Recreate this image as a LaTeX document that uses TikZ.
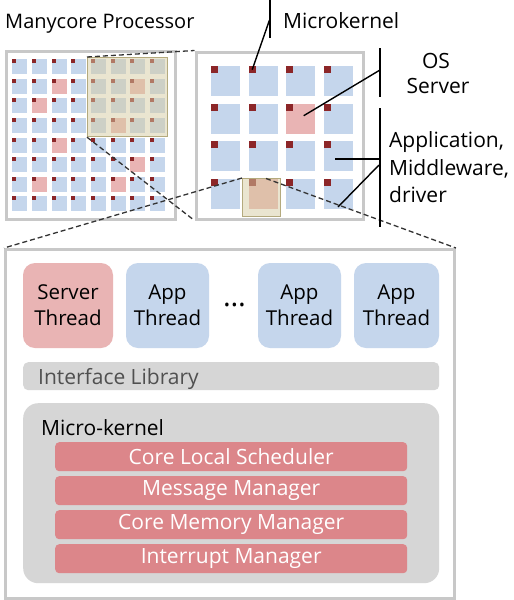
\documentclass[tikz,border=0pt]{standalone}
\usepackage{fontspec}
\setmainfont{Open Sans}
\usetikzlibrary{calc}
\definecolor{cellblue}{RGB}{197,214,236}
\definecolor{cellpink}{RGB}{233,180,180}
\definecolor{markred}{RGB}{140,38,40}
\definecolor{panelgray}{RGB}{200,200,200}
\definecolor{bargray}{RGB}{214,214,214}
\definecolor{barred}{RGB}{220,134,138}
\definecolor{tanfill}{RGB}{214,204,162}
\definecolor{tandraw}{RGB}{180,170,125}
\definecolor{libtext}{RGB}{80,80,80}
\begin{document}
\begin{tikzpicture}[x=1pt,y=-1pt,
  panel/.style={draw=panelgray,line width=3pt,fill=white},
  cellL/.style={anchor=north west,inner sep=0pt,minimum width=15pt,minimum height=15pt,fill=cellblue},
  cellR/.style={anchor=north west,inner sep=0pt,minimum width=29pt,minimum height=30pt,fill=cellblue},
  markL/.style={anchor=north west,inner sep=0pt,minimum size=4pt,fill=markred},
  markR/.style={anchor=north west,inner sep=0pt,minimum size=7pt,fill=markred},
  hilite/.style={draw=tandraw,line width=1.2pt,fill=tanfill,fill opacity=0.5},
  zoomline/.style={dashed,dash pattern=on 5pt off 3pt,line width=1.3pt,black!80},
  leader/.style={line width=1.4pt,black},
  lbl/.style={font=\fontsize{21}{27}\selectfont,inner sep=0pt},
  thread/.style={rounded corners=12pt,minimum height=85pt,inner sep=0pt,align=center,font=\fontsize{20.5}{26}\selectfont},
  kbar/.style={rounded corners=4pt,fill=barred,minimum width=352pt,minimum height=29pt,inner sep=0pt,anchor=north west,text=white,font=\fontsize{21}{24}\selectfont}
]
\useasboundingbox (0,0) rectangle (514,600);

% ---------- left panel: manycore processor ----------
\node[panel,anchor=north west,minimum width=169pt,minimum height=168pt,inner sep=0pt] (leftpanel) at (4.5,49.5) {};
\foreach \i in {0,...,7}{
  \foreach \j in {0,...,7}{
    \node[cellL] (L-\i-\j) at ({12+19.7*\j},{59+19.6*\i}) {};
  }
}
\foreach \i/\j in {1/2,2/1,4/2,5/6,6/1,6/5,1/6,3/5}{
  \node[cellL,fill=cellpink] (LP-\i-\j) at ({12+19.7*\j},{59+19.6*\i}) {};
}
\foreach \i in {0,...,7}{
  \foreach \j in {0,...,7}{
    \node[markL] (LM-\i-\j) at ({12+19.7*\j},{59+19.6*\i}) {};
  }
}
\node[hilite,anchor=north west,minimum width=80pt,minimum height=79pt,inner sep=0pt] (lhl) at (87,57) {};

% ---------- right panel: zoomed 4x4 ----------
\node[panel,anchor=north west,minimum width=167pt,minimum height=167pt,inner sep=0pt] (rightpanel) at (194.5,50.5) {};
\foreach \i in {0,...,3}{
  \foreach \j in {0,...,3}{
    \node[cellR] (R-\i-\j) at ({211+37.5*\j},{66+37.5*\i}) {};
  }
}
\foreach \i/\j in {1/2,3/1}{
  \node[cellR,fill=cellpink] (RP-\i-\j) at ({211+37.5*\j},{66+37.5*\i}) {};
}
\foreach \i in {0,...,3}{
  \foreach \j in {0,...,3}{
    \node[markR] (RM-\i-\j) at ({211+37.5*\j},{66+37.5*\i}) {};
  }
}
\node[hilite,anchor=north west,minimum width=38pt,minimum height=38pt,inner sep=0pt] (rhl) at (242,178) {};

% ---------- bottom panel ----------
\node[panel,anchor=north west,minimum width=449pt,minimum height=349pt,inner sep=0pt] (bigpanel) at (4,248) {};

\node[thread,fill=cellpink,minimum width=90pt] (srv) at (68,305.5) {Server\\Thread};
\node[thread,fill=cellblue,minimum width=83pt] (app1) at (167.5,305.5) {App\\Thread};
\node[thread,fill=cellblue,minimum width=83pt] (app2) at (299.5,305.5) {App\\Thread};
\node[thread,fill=cellblue,minimum width=85pt] (app3) at (396.5,305.5) {App\\Thread};
\node[font=\fontsize{29}{30}\selectfont,inner sep=0pt,anchor=base] (dots) at (234.5,306.5) {…};

\node[rounded corners=5pt,fill=bargray,anchor=north west,minimum width=416pt,minimum height=28pt,inner sep=0pt] (iflib) at (23,362) {};
\node[anchor=base west,inner sep=0pt,text=libtext,font=\fontsize{21}{24}\selectfont] (iflibtxt) at (38,384.5) {Interface Library};

\node[rounded corners=15pt,fill=bargray,anchor=north west,minimum width=416pt,minimum height=180pt,inner sep=0pt] (mk) at (23,403) {};
\node[anchor=base west,inner sep=0pt,font=\fontsize{21}{24}\selectfont] (mktxt) at (41,435) {Micro-kernel};

\node[kbar] (k1) at (55,442) {Core Local Scheduler};
\node[kbar] (k2) at (55,476) {Message Manager};
\node[kbar] (k3) at (55,510) {Core Memory Manager};
\node[kbar] (k4) at (55,544) {Interrupt Manager};

% ---------- zoom lines ----------
\draw[zoomline] (lhl.north west) -- (rightpanel.north west);
\draw[zoomline] (lhl.south west) -- (rightpanel.south west);
\coordinate (rhlT) at (266,178.5);
\draw[zoomline] (rhl.north west) -- (bigpanel.north west);
\draw[zoomline] (rhlT) -- (bigpanel.north east);

% ---------- labels and leaders ----------
\node[lbl,anchor=base west,font=\fontsize{20}{26}\selectfont] (title) at (5,28) {Manycore Processor};
\node[lbl,anchor=base west] (mklbl) at (283,28) {Microkernel};
\node[lbl,anchor=base] (oslbl1) at (436,68) {OS};
\node[lbl,anchor=base] (oslbl2) at (438,93) {Server};
\node[lbl,anchor=base west] (applbl1) at (389,147) {Application,};
\node[lbl,anchor=base west] (applbl2) at (389,175) {Middleware,};
\node[lbl,anchor=base west] (applbl3) at (389,202) {driver};

\coordinate (mkT) at (270,0);
\coordinate (mkB) at (270,38);
\coordinate (mkJ) at (269.5,20);
\draw[leader] (mkT) -- (mkB);
\draw[leader] (mkJ) -- (RM-0-1.center);

\coordinate (osT) at (380,48);
\coordinate (osB) at (380,97);
\coordinate (osJ) at (380,70);
\coordinate (osEnd) at ($(RP-1-2.center)+(3,-3)$);
\draw[leader] (osT) -- (osB);
\draw[leader] (osJ) -- (osEnd);

\coordinate (apT) at (380,108);
\coordinate (apB) at (380,227);
\coordinate (apJ1) at (380,159);
\coordinate (apJ2) at (379,165);
\coordinate (apEnd1) at (335,159);
\coordinate (apEnd2) at (338,207);
\draw[leader] (apT) -- (apB);
\draw[leader] (apEnd1) -- (apJ1);
\draw[leader] (apJ2) -- (apEnd2);
\end{tikzpicture}
\end{document}
